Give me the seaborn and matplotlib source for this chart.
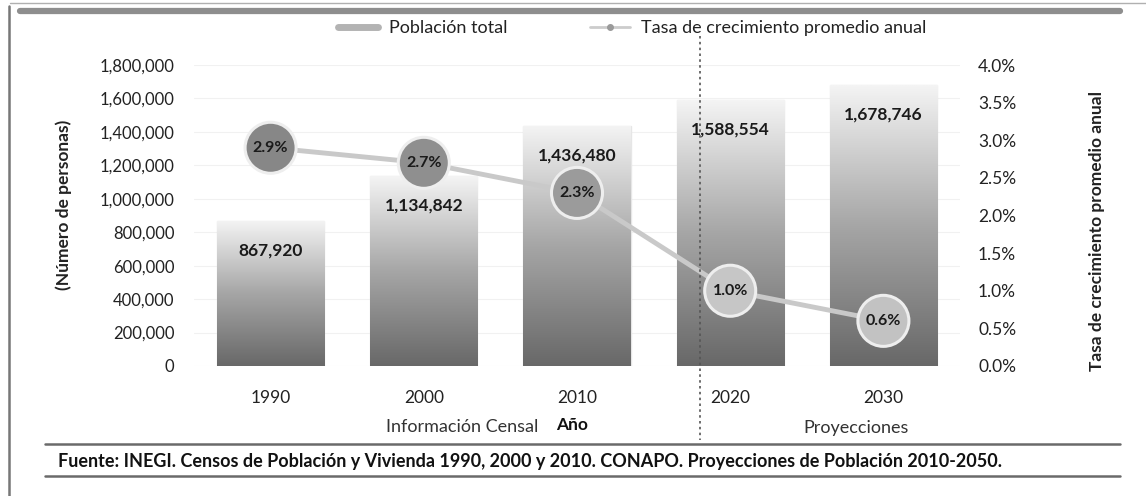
import numpy as np
import pandas as pd
import matplotlib
matplotlib.use("Agg")
import matplotlib.pyplot as plt
import seaborn as sns
from matplotlib.lines import Line2D
from matplotlib.colors import LinearSegmentedColormap
from matplotlib.ticker import FuncFormatter, MultipleLocator

# ---- data ----
years = ["1990", "2000", "2010", "2020", "2030"]
population = [867920, 1134842, 1436480, 1588554, 1678746]
growth_rate = [2.9, 2.7, 2.3, 1.0, 0.6]
pop_labels = ["867,920", "1,134,842", "1,436,480", "1,588,554", "1,678,746"]
rate_labels = ["2.9%", "2.7%", "2.3%", "1.0%", "0.6%"]
circle_colors = ["#878787", "#8f8f8f", "#9b9b9b", "#c6c6c6", "#c2c2c2"]

sns.set_theme(style="white")
plt.rcParams['font.family'] = ['Lato', 'DejaVu Sans']

W, H = 1146, 496
fig = plt.figure(figsize=(W / 100, H / 100), dpi=100)
ax = fig.add_axes([194 / W, 130 / H, 766 / W, 301 / H])

df = pd.DataFrame({"year": years, "pop": population, "rate": growth_rate})
sns.barplot(data=df, x="year", y="pop", ax=ax, width=0.70, color="#b0b0b0",
            edgecolor="#e6e6e6", linewidth=1.0, zorder=2)

# gradient fill inside each bar
cmap = LinearSegmentedColormap.from_list("g", ["#686868", "#a6a6a6", "#f4f4f4"])
grad = np.linspace(0, 1, 256).reshape(-1, 1)
for p in ax.patches:
    x0, w, h = p.get_x(), p.get_width(), p.get_height()
    im = ax.imshow(grad, extent=[x0, x0 + w, 0, h], origin="lower", cmap=cmap,
                   aspect="auto", zorder=2.1)
    im.set_clip_path(p)
    p.set_facecolor("none")

ax.bar_label(ax.containers[0], labels=pop_labels, padding=-27, fontweight="bold",
             fontsize=12.5, color="#1a1a1a", zorder=5)

ax.set_xlim(-0.5, 4.5)
ax.set_ylim(0, 1800000)
ax.yaxis.set_major_locator(MultipleLocator(200000))
ax.yaxis.set_major_formatter(FuncFormatter(lambda v, _: f"{int(v):,}"))
ax.yaxis.grid(True, color="#f1f1f1", lw=0.8)
ax.set_axisbelow(True)
ax.tick_params(axis="y", length=0, pad=14, labelsize=12, labelcolor="#222222")
ax.tick_params(axis="x", length=0, pad=17, labelsize=12.5, labelcolor="#222222")
ax.set_xlabel("")
ax.set_ylabel("(Número de personas)", fontweight="bold", fontsize=12.5, color="#222222")
ax.yaxis.set_label_coords(-0.159, 0.535)

# ---- growth rate line on secondary axis ----
ax2 = ax.twinx()
sns.lineplot(x=df.index, y=df["rate"], ax=ax2, color="#c9c9c9", lw=3.5, zorder=3)
sns.scatterplot(x=df.index, y=df["rate"], hue=df["year"],
                palette=dict(zip(years, circle_colors)), s=1350,
                edgecolor="#eeeeee", linewidth=2.2, legend=False, ax=ax2, zorder=4)
for i, (r, lbl) in enumerate(zip(growth_rate, rate_labels)):
    ax2.text(i, r, lbl, ha="center", va="center", fontweight="bold", fontsize=11.5,
             color="#1a1a1a", zorder=6)
ax2.set_ylim(0, 4.0)
ax2.yaxis.set_major_locator(MultipleLocator(0.5))
ax2.yaxis.set_major_formatter(FuncFormatter(lambda v, _: f"{v:.1f}%"))
ax2.tick_params(axis="y", length=0, pad=13, labelsize=12.5, labelcolor="#222222")
ax2.grid(False)
ax2.set_ylabel("Tasa de crecimiento promedio anual", fontweight="bold", fontsize=12.5,
               color="#222222", rotation=90)
ax2.yaxis.set_label_coords(1.168, 0.45)
ax.set_xlim(-0.5, 4.5)

for a in (ax, ax2):
    for s in a.spines.values():
        s.set_visible(False)

# ---- legend ----
handles = [Line2D([], [], color="#b3b3b3", lw=5),
           Line2D([], [], color="#cccccc", lw=2, marker="o", markersize=4,
                  markerfacecolor="#9a9a9a", markeredgecolor="#9a9a9a")]
fig.legend(handles, ["Población total", "Tasa de crecimiento promedio anual"],
           loc="center", bbox_to_anchor=(632 / W, 1 - 28 / H), ncol=2, frameon=False,
           handlelength=2.2, handletextpad=0.6, columnspacing=4.6, fontsize=13,
           labelcolor="#222222")

# ---- annotations under the axis ----
fig.text(462 / W, 1 - 427 / H, "Información Censal", ha="center", va="center",
         fontsize=13, color="#333333")
fig.text(572 / W, 1 - 425 / H, "Año", ha="center", va="center", fontsize=12.5,
         fontweight="bold", color="#111111")
fig.text(856 / W, 1 - 428 / H, "Proyecciones", ha="center", va="center",
         fontsize=13, color="#333333")
fig.text(58 / W, 1 - 461 / H,
         "Fuente: INEGI. Censos de Población y Vivienda 1990, 2000 y 2010. CONAPO. "
         "Proyecciones de Población 2010-2050.",
         ha="left", va="center", fontsize=13, fontweight="bold", color="#111111")

# dotted separator
fig.add_artist(Line2D([700 / W, 700 / W], [1 - 36 / H, 1 - 440 / H],
                      transform=fig.transFigure, color="#555555", lw=1.2,
                      linestyle=(0, (1.5, 2))))

# frame decorations
fig.add_artist(Line2D([20 / W, 1120 / W], [1 - 11 / H, 1 - 11 / H],
                      transform=fig.transFigure, color="#8e8e8e", lw=4.5))
fig.add_artist(Line2D([10 / W, 1 - 0 / W], [1 - 3 / H, 1 - 3 / H],
                      transform=fig.transFigure, color="#b0b0b0", lw=1.0))
fig.add_artist(Line2D([9 / W, 9 / W], [1 - 6 / H, 0],
                      transform=fig.transFigure, color="#777777", lw=1.8))
for yy in (444, 476):
    fig.add_artist(Line2D([45 / W, 1120 / W], [1 - yy / H, 1 - yy / H],
                          transform=fig.transFigure, color="#6a6a6a", lw=1.8))

fig.savefig("out.png", dpi=100)
